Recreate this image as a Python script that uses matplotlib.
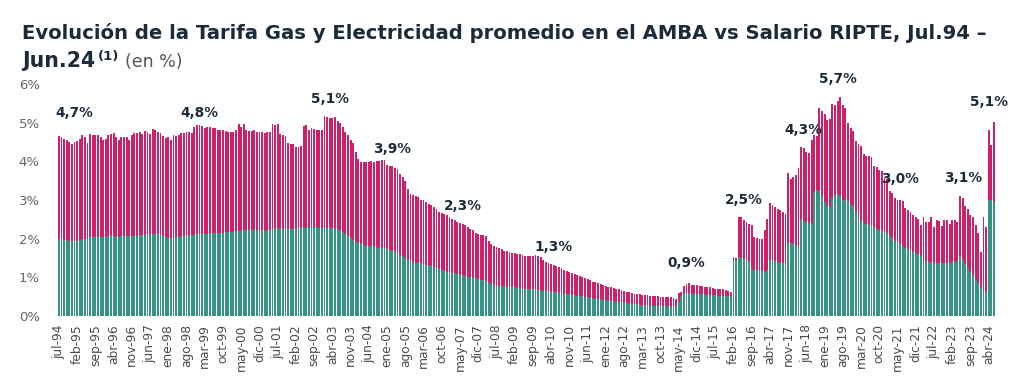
import matplotlib
matplotlib.use("Agg")
import matplotlib.pyplot as plt
import numpy as np

# Total del indicador (%), mensual jul-94 .. jun-24
total_pct = [
    4.65, 4.62, 4.57, 4.55, 4.51, 4.46, 4.49, 4.53, 4.59, 4.69, 4.63, 4.48,
    4.70, 4.69, 4.69, 4.67, 4.63, 4.56, 4.59, 4.69, 4.70, 4.73, 4.62, 4.55,
    4.62, 4.63, 4.63, 4.56, 4.69, 4.72, 4.73, 4.75, 4.71, 4.79, 4.75, 4.70,
    4.83, 4.81, 4.75, 4.72, 4.65, 4.60, 4.63, 4.56, 4.69, 4.65, 4.69, 4.72,
    4.72, 4.77, 4.75, 4.74, 4.89, 4.93, 4.95, 4.92, 4.85, 4.88, 4.88, 4.85,
    4.85, 4.82, 4.80, 4.80, 4.78, 4.76, 4.77, 4.76, 4.80, 4.97, 4.90, 4.97,
    4.80, 4.79, 4.78, 4.80, 4.77, 4.76, 4.75, 4.74, 4.76, 4.75, 4.96, 4.95,
    4.97, 4.70, 4.67, 4.65, 4.48, 4.46, 4.45, 4.38, 4.38, 4.40, 4.92, 4.95,
    4.80, 4.86, 4.83, 4.80, 4.82, 4.80, 5.17, 5.14, 5.12, 5.13, 5.14, 5.05,
    4.98, 4.90, 4.75, 4.68, 4.55, 4.48, 4.25, 4.05, 3.98, 3.99, 3.99, 3.99,
    4.00, 3.98, 4.00, 4.01, 4.03, 4.03, 3.90, 3.88, 3.87, 3.84, 3.80, 3.68,
    3.60, 3.50, 3.28, 3.15, 3.12, 3.10, 3.08, 3.00, 2.99, 2.95, 2.90, 2.87,
    2.82, 2.76, 2.70, 2.67, 2.65, 2.60, 2.56, 2.52, 2.48, 2.44, 2.40, 2.37,
    2.35, 2.30, 2.25, 2.22, 2.15, 2.12, 2.10, 2.10, 2.08, 1.95, 1.85, 1.80,
    1.78, 1.75, 1.72, 1.68, 1.67, 1.65, 1.64, 1.63, 1.60, 1.60, 1.58, 1.56,
    1.56, 1.55, 1.56, 1.57, 1.55, 1.52, 1.45, 1.40, 1.38, 1.34, 1.31, 1.29,
    1.27, 1.24, 1.20, 1.17, 1.15, 1.12, 1.09, 1.06, 1.04, 1.01, 0.98, 0.96,
    0.92, 0.89, 0.87, 0.85, 0.82, 0.80, 0.78, 0.76, 0.74, 0.72, 0.70, 0.69,
    0.67, 0.65, 0.63, 0.61, 0.60, 0.58, 0.57, 0.56, 0.55, 0.55, 0.54, 0.53,
    0.53, 0.52, 0.51, 0.50, 0.50, 0.49, 0.48, 0.48, 0.46, 0.43, 0.60, 0.62,
    0.78, 0.84, 0.86, 0.80, 0.79, 0.79, 0.77, 0.77, 0.76, 0.75, 0.74, 0.72,
    0.71, 0.70, 0.69, 0.69, 0.66, 0.64, 0.63, 1.53, 1.50, 2.57, 2.55, 2.48,
    2.44, 2.39, 2.35, 2.05, 2.02, 2.00, 1.98, 2.22, 2.52, 2.91, 2.87, 2.82,
    2.78, 2.74, 2.70, 2.65, 3.70, 3.55, 3.60, 3.65, 3.82, 4.38, 4.35, 4.25,
    4.22, 4.55, 4.68, 4.65, 5.37, 5.30, 5.22, 5.08, 5.10, 5.48, 5.45, 5.55,
    5.67, 5.45, 5.38, 4.98, 4.85, 4.78, 4.52, 4.45, 4.40, 4.18, 4.15, 4.14,
    4.12, 3.88, 3.85, 3.78, 3.75, 3.58, 3.54, 3.22, 3.18, 3.04, 3.00, 3.00,
    2.98, 2.80, 2.74, 2.70, 2.60, 2.57, 2.52, 2.36, 2.57, 2.44, 2.42, 2.57,
    2.31, 2.48, 2.46, 2.33, 2.48, 2.47, 2.39, 2.48, 2.47, 2.42, 3.10, 3.04,
    2.85, 2.78, 2.60, 2.55, 2.35, 2.15, 1.66, 2.57, 2.31, 4.80, 4.42, 5.02,
]

# Parte inferior (verde) del total (%)
base_pct = [
    1.99, 1.98, 1.97, 1.96, 1.95, 1.93, 1.93, 1.94, 1.96, 1.98, 2.00, 1.99,
    2.05, 2.05, 2.04, 2.04, 2.04, 2.05, 2.05, 2.06, 2.06, 2.06, 2.05, 2.05,
    2.06, 2.06, 2.07, 2.07, 2.08, 2.08, 2.08, 2.09, 2.09, 2.10, 2.10, 2.11,
    2.12, 2.12, 2.11, 2.10, 2.08, 2.04, 2.02, 2.01, 2.02, 2.04, 2.05, 2.06,
    2.07, 2.08, 2.08, 2.09, 2.10, 2.11, 2.12, 2.12, 2.13, 2.13, 2.14, 2.14,
    2.14, 2.14, 2.15, 2.15, 2.16, 2.16, 2.17, 2.18, 2.19, 2.20, 2.21, 2.22,
    2.22, 2.23, 2.23, 2.24, 2.23, 2.22, 2.22, 2.21, 2.22, 2.23, 2.25, 2.26,
    2.27, 2.27, 2.26, 2.26, 2.25, 2.25, 2.26, 2.26, 2.27, 2.27, 2.28, 2.28,
    2.27, 2.27, 2.28, 2.28, 2.28, 2.27, 2.28, 2.28, 2.27, 2.27, 2.26, 2.25,
    2.22, 2.18, 2.12, 2.06, 2.01, 1.96, 1.92, 1.88, 1.85, 1.83, 1.82, 1.81,
    1.80, 1.79, 1.78, 1.77, 1.77, 1.76, 1.72, 1.70, 1.68, 1.66, 1.64, 1.58,
    1.54, 1.50, 1.46, 1.42, 1.40, 1.38, 1.36, 1.35, 1.34, 1.32, 1.31, 1.30,
    1.26, 1.23, 1.21, 1.19, 1.17, 1.15, 1.13, 1.12, 1.10, 1.08, 1.06, 1.05,
    1.03, 1.02, 1.00, 0.99, 0.97, 0.95, 0.94, 0.92, 0.90, 0.88, 0.82, 0.80,
    0.79, 0.78, 0.78, 0.77, 0.76, 0.75, 0.75, 0.74, 0.73, 0.72, 0.71, 0.70,
    0.70, 0.69, 0.69, 0.68, 0.67, 0.66, 0.65, 0.64, 0.64, 0.63, 0.62, 0.61,
    0.60, 0.59, 0.58, 0.57, 0.56, 0.55, 0.54, 0.53, 0.52, 0.51, 0.50, 0.49,
    0.47, 0.46, 0.45, 0.44, 0.43, 0.42, 0.41, 0.40, 0.39, 0.38, 0.37, 0.36,
    0.35, 0.34, 0.33, 0.32, 0.31, 0.30, 0.30, 0.29, 0.29, 0.28, 0.28, 0.27,
    0.27, 0.26, 0.26, 0.26, 0.25, 0.25, 0.25, 0.24, 0.24, 0.24, 0.40, 0.52,
    0.58, 0.60, 0.60, 0.58, 0.58, 0.57, 0.57, 0.56, 0.56, 0.55, 0.55, 0.54,
    0.54, 0.53, 0.53, 0.52, 0.51, 0.51, 0.50, 1.45, 1.45, 1.52, 1.50, 1.48,
    1.46, 1.42, 1.22, 1.20, 1.18, 1.17, 1.16, 1.15, 1.18, 1.45, 1.44, 1.42,
    1.40, 1.38, 1.36, 1.34, 1.90, 1.88, 1.85, 1.82, 1.80, 2.50, 2.45, 2.42,
    2.40, 2.38, 3.20, 3.25, 3.22, 3.10, 2.95, 2.85, 2.82, 3.05, 3.12, 3.15,
    3.10, 3.00, 3.00, 2.98, 2.88, 2.85, 2.70, 2.55, 2.45, 2.40, 2.38, 2.36,
    2.35, 2.30, 2.25, 2.22, 2.20, 2.18, 2.15, 2.08, 2.03, 1.95, 1.90, 1.86,
    1.82, 1.76, 1.72, 1.69, 1.65, 1.62, 1.60, 1.55, 1.42, 1.40, 1.40, 1.39,
    1.38, 1.38, 1.37, 1.37, 1.38, 1.38, 1.38, 1.39, 1.40, 1.42, 1.54, 1.45,
    1.35, 1.28, 1.15, 1.05, 0.95, 0.85, 0.72, 0.66, 0.62, 3.00, 3.00, 2.95,
]

# etiquetas del eje x (una cada 7 meses desde jul-94)
tick_labels = [
    "jul-94", "feb-95", "sep-95", "abr-96", "nov-96", "jun-97", "ene-98",
    "ago-98", "mar-99", "oct-99", "may-00", "dic-00", "jul-01", "feb-02",
    "sep-02", "abr-03", "nov-03", "jun-04", "ene-05", "ago-05", "mar-06",
    "oct-06", "may-07", "dic-07", "jul-08", "feb-09", "sep-09", "abr-10",
    "nov-10", "jun-11", "ene-12", "ago-12", "mar-13", "oct-13", "may-14",
    "dic-14", "jul-15", "feb-16", "sep-16", "abr-17", "nov-17", "jun-18",
    "ene-19", "ago-19", "mar-20", "oct-20", "may-21", "dic-21", "jul-22",
    "feb-23", "sep-23", "abr-24",
]

# valores destacados
ann_text = ["4,7%", "4,8%", "5,1%", "3,9%", "2,3%", "1,3%", "0,9%",
            "2,5%", "4,3%", "5,7%", "3,0%", "3,1%", "5,1%"]
ann_idx = [6, 54, 104, 128, 155, 190, 241, 263, 286, 299, 323, 347, 357]
ann_y = [5.25, 5.25, 5.62, 4.33, 2.84, 1.78, 1.38, 3.0, 4.8, 6.12, 3.54, 3.57, 5.54]

COL_TOP = "#cf2169"
COL_BASE = "#359486"
NAVY = "#1c2b3b"

total = np.array(total_pct)
base = np.array(base_pct)
x = np.arange(len(total))

fig = plt.figure(figsize=(10.24, 3.88), dpi=100)
ax = fig.add_axes([55 / 1024, 72 / 388, 942 / 1024, 232 / 388])

ax.bar(x, base, width=0.72, color=COL_BASE, linewidth=0)
ax.bar(x, total - base, bottom=base, width=0.72, color=COL_TOP, linewidth=0)

ax.set_xlim(-1.5, 360.2)
ax.set_ylim(0, 6)
ax.set_yticks(range(7))
ax.set_yticklabels([f"{v}%" for v in range(7)], color="#666666", fontsize=9.5)
ax.set_xticks(np.arange(0, len(tick_labels) * 7, 7))
ax.set_xticklabels(tick_labels, rotation=90, color="#4a4a4a", fontsize=8.8)
ax.tick_params(length=0)
ax.tick_params(axis="y", pad=11)
ax.tick_params(axis="x", pad=6)
for s in ax.spines.values():
    s.set_visible(False)

for t, i, yv in zip(ann_text, ann_idx, ann_y):
    ax.text(i, yv, t, ha="center", va="center", fontsize=9.8,
            fontweight="bold", color=NAVY, clip_on=False)

# titulo en dos lineas
fig.text(22 / 1024, 1 - 39 / 388,
         "Evolución de la Tarifa Gas y Electricidad promedio en el AMBA vs Salario RIPTE, Jul.94 –",
         fontsize=14.1, fontweight="bold", color=NAVY, va="baseline", ha="left")
t1 = fig.text(22 / 1024, 1 - 66.7 / 388, "Jun.24", fontsize=14.8,
              fontweight="bold", color=NAVY, va="baseline", ha="left")
fig.canvas.draw()
r = fig.canvas.get_renderer()
x1 = t1.get_window_extent(r).x1
t2 = fig.text((x1 + 3) / 1024, 1 - 60 / 388, "(1)", fontsize=9.5,
              fontweight="bold", color=NAVY, va="baseline", ha="left")
x2 = t2.get_window_extent(r).x1
fig.text((x2 + 5) / 1024, 1 - 66.7 / 388, "(en %)", fontsize=12.5,
         color="#555555", va="baseline", ha="left")

fig.savefig("out.png", dpi=100)
